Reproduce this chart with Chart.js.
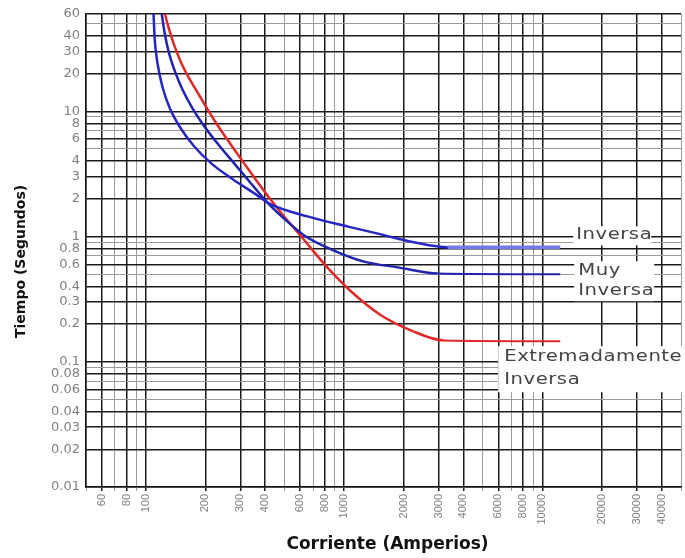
<!DOCTYPE html>
<html><head><meta charset="utf-8">
<script src="https://cdn.jsdelivr.net/npm/chart.js@4.4.1/dist/chart.umd.min.js"></script>
<style>html,body{margin:0;padding:0;background:#fff}canvas{display:block}</style>
</head><body>
<canvas id="c" width="685" height="558"></canvas>
<script>
// ---- Data ----
const inversaCurrent = [109.5, 111.1, 115, 121.8, 132, 148.4, 174.4, 214.8, 277, 361, 420, 661, 1049, 1536, 2250, 3336, 12300];
const inversaTime    = [60, 37.1, 23.5, 15.4, 10.65, 7.52, 5.31, 3.82, 2.84, 2.16, 1.83, 1.44, 1.2, 1.04, 0.9, 0.82, 0.82];

const muyCurrent = [120.4, 124.6, 130.6, 140.1, 153.6, 172.5, 198.1, 232.9, 277.2, 337.3, 415.7, 511.7, 630, 861, 1261, 1871, 2970, 12300];
const muyTime    = [60, 42.2, 29.8, 21.0, 14.8, 10.5, 7.52, 5.41, 3.89, 2.69, 1.83, 1.34, 1.02, 0.79, 0.63, 0.567, 0.507, 0.5];

const extCurrent = [125, 130.1, 137.9, 148.8, 164.1, 184.2, 206.9, 232.9, 264.6, 304, 353.4, 415.7, 500, 608.6, 831.9, 1086, 1536, 2174, 3184, 12300];
const extTime    = [60, 47.1, 35.1, 25.7, 18.8, 13.8, 10.1, 7.52, 5.61, 4.11, 2.95, 2.08, 1.44, 1.0, 0.556, 0.364, 0.235, 0.178, 0.148, 0.146];

const xTickLabels = [60, 80, 100, 200, 300, 400, 600, 800, 1000, 2000, 3000, 4000, 6000, 8000, 10000, 20000, 30000, 40000];
const yTickLabels = [0.01, 0.02, 0.03, 0.04, 0.06, 0.08, 0.1, 0.2, 0.3, 0.4, 0.6, 0.8, 1, 2, 3, 4, 6, 8, 10, 20, 30, 40, 60];

const xTitle = 'Corriente (Amperios)';
const yTitle = 'Tiempo (Segundos)';
const curveLabels = { inversa: ['Inversa'], muy: ['Muy', 'Inversa'], ext: ['Extremadamente', 'Inversa'] };

// ---- helpers ----
function gridValues(minExp, maxExp) {
  const out = [];
  for (let e = minExp; e <= maxExp; e++) {
    for (let m = 1; m <= 9; m++) out.push(Number((m * Math.pow(10, e)).toPrecision(6)));
  }
  return out;
}
const xGrid = gridValues(1, 4).filter(v => v >= 50 && v <= 50000);
const yGrid = gridValues(-2, 1).filter(v => v >= 0.01 && v <= 60);
const isIn = (arr, v) => arr.some(l => Math.abs(l - v) / l < 1e-6);
const pts = (xs, ys) => xs.map((x, i) => ({ x, y: ys[i] }));

const labelsPlugin = {
  id: 'labelsPlugin',
  afterDatasetsDraw(chart) {
    const { ctx, scales: { x, y } } = chart;
    const endPx = (xs, ys) => ({ px: x.getPixelForValue(xs[xs.length - 1]), py: y.getPixelForValue(ys[ys.length - 1]) });
    const e1 = endPx(inversaCurrent, inversaTime);
    const e2 = endPx(muyCurrent, muyTime);
    const e3 = endPx(extCurrent, extTime);
    ctx.save();
    ctx.font = '15px "DejaVu Sans"';
    ctx.letterSpacing = '0.4px';
    ctx.textBaseline = 'middle';
    const boxes = [
      { bx: e1.px + 13, by: e1.py - 21, bw: 78, bh: 19, lines: curveLabels.inversa, tx: e1.px + 16, ty: [e1.py - 12] },
      { bx: e2.px + 14, by: e2.py - 13, bw: 80, bh: 40, lines: curveLabels.muy, tx: e2.px + 18, ty: [e2.py - 3, e2.py + 17] },
      { bx: e3.px - 62, by: e3.py + 5, bw: 186, bh: 46, lines: curveLabels.ext, tx: e3.px - 56, ty: [e3.py + 16, e3.py + 39] }
    ];
    boxes.forEach(b => {
      ctx.fillStyle = '#ffffff';
      ctx.fillRect(b.bx, b.by, b.bw, b.bh);
      ctx.fillStyle = '#444444';
      b.lines.forEach((t, i) => {
        ctx.save();
        ctx.translate(b.tx, b.ty[i]);
        ctx.scale(1.31, 1);
        ctx.fillText(t, 0, 0);
        ctx.restore();
      });
    });
    ctx.restore();
  },
  afterDraw(chart) {
    const { ctx, chartArea } = chart;
    ctx.save();
    ctx.fillStyle = '#111';
    ctx.textAlign = 'center';
    ctx.textBaseline = 'middle';
    ctx.font = 'bold 17px "DejaVu Sans"';
    ctx.fillText(xTitle, (chartArea.left + chartArea.right) / 2 + 4, 545);
    ctx.translate(21, (chartArea.top + chartArea.bottom) / 2 + 11);
    ctx.rotate(-Math.PI / 2);
    ctx.font = 'bold 14px "DejaVu Sans"';
    ctx.fillText(yTitle, 0, 0);
    ctx.restore();
  }
};

const lineBase = { pointRadius: 0, borderWidth: 2.5, cubicInterpolationMode: 'monotone', fill: false };

new Chart(document.getElementById('c'), {
  type: 'line',
  data: {
    datasets: [
      Object.assign({}, lineBase, {
        label: 'Inversa', data: pts(inversaCurrent, inversaTime), borderColor: '#2626c4',
        segment: {
          borderColor: c => c.p0DataIndex === inversaCurrent.length - 2 ? '#7676ee' : undefined,
          borderWidth: c => c.p0DataIndex === inversaCurrent.length - 2 ? 3.5 : undefined
        }
      }),
      Object.assign({}, lineBase, {
        label: 'Muy Inversa', data: pts(muyCurrent, muyTime), borderColor: '#2222b0',
        segment: { borderWidth: c => c.p0DataIndex === muyCurrent.length - 2 ? 2 : undefined }
      }),
      Object.assign({}, lineBase, {
        label: 'Extremadamente Inversa', data: pts(extCurrent, extTime), borderColor: '#e02828',
        segment: { borderWidth: c => c.p0DataIndex === extCurrent.length - 2 ? 2 : undefined }
      })
    ]
  },
  options: {
    responsive: false,
    animation: false,
    layout: { padding: { left: 0, right: 4, top: 13, bottom: 0 } },
    plugins: { legend: { display: false }, tooltip: { enabled: false } },
    scales: {
      x: {
        type: 'logarithmic', min: 50, max: 50000,
        afterBuildTicks: s => { s.ticks = xGrid.map(v => ({ value: v })); },
        afterFit: s => { s.height = 71; s.paddingLeft = 0; s.paddingRight = 0; },
        ticks: {
          autoSkip: false, minRotation: 90, maxRotation: 90, padding: 3,
          color: '#808080', font: { family: 'Liberation Sans', size: 11 },
          callback: v => isIn(xTickLabels, v) ? String(v) : ''
        },
        grid: {
          tickLength: 4,
          color: c => c.tick && isIn(xTickLabels, c.tick.value) ? '#1a1a1a' : '#9a9a9a',
          lineWidth: c => c.tick && isIn(xTickLabels, c.tick.value) ? 1.5 : 1
        },
        border: { color: '#111', width: 1.5 }
      },
      y: {
        type: 'logarithmic', min: 0.01, max: 60,
        afterBuildTicks: s => { s.ticks = yGrid.map(v => ({ value: v })); },
        afterFit: s => { s.width = 86; },
        ticks: {
          autoSkip: false, padding: 6,
          color: '#808080', font: { family: 'DejaVu Sans', size: 13 },
          callback: v => isIn(yTickLabels, v) ? String(v) : ''
        },
        grid: {
          drawTicks: false,
          color: c => c.tick && isIn(yTickLabels, c.tick.value) ? '#1a1a1a' : '#9a9a9a',
          lineWidth: c => c.tick && isIn(yTickLabels, c.tick.value) ? 1.5 : 1
        },
        border: { color: '#111', width: 1.5 }
      }
    }
  },
  plugins: [labelsPlugin]
});
</script>
</body></html>
